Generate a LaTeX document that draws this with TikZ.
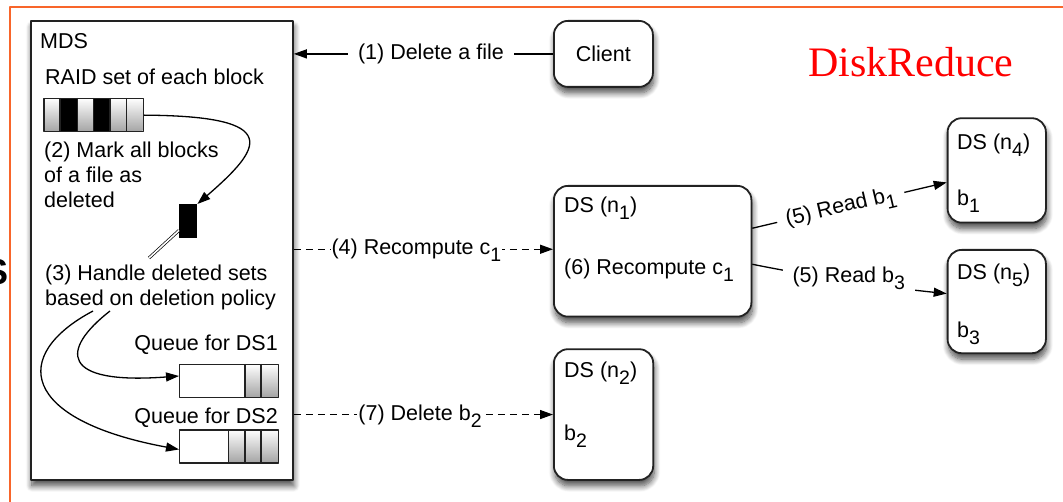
\documentclass[tikz,border=0pt]{standalone}
\usepackage{fontspec}
\setmainfont{Liberation Sans}
\newfontfamily\titleserif{Liberation Serif}
\usetikzlibrary{arrows.meta,shadows.blur,calc}

\definecolor{frameorange}{HTML}{F8652A}
\definecolor{boxline}{HTML}{222222}
% lowered index, kept out of the line height
\newcommand\dnsub[1]{\raisebox{-7pt}[0pt][0pt]{\fontsize{19.5}{19.5}\selectfont #1}}

\begin{document}
\begin{tikzpicture}[x=1pt,y=-1pt,
  font=\fontsize{21.5}{25}\selectfont,
  line join=round,
  frame/.style={draw=frameorange, line width=2pt},
  shadowed/.style={blur shadow={shadow xshift=1pt, shadow yshift=-6pt,
      shadow blur radius=6pt, shadow blur steps=10, shadow opacity=70}},
  panel/.style={draw=boxline, line width=1.8pt, fill=white, inner sep=0pt,
      anchor=north west, shadowed},
  rbox/.style={panel, rounded corners=14pt},
  txt/.style={anchor=base west, inner sep=0pt},
  txtr/.style={anchor=base east, inner sep=0pt},
  arr/.style={-{Triangle[length=13pt,width=9pt]}, line width=1.3pt},
  dsh/.style={dash pattern=on 7pt off 5pt},
  lbl/.style={fill=white, inner ysep=2pt},
  graycell/.style={top color=white, bottom color=black!35},
  thin box/.style={draw=boxline, line width=1.3pt, inner sep=0pt, anchor=north west},
]
\useasboundingbox (0,0) rectangle (1063,502);

% slide frame and the clipped heading letter at the left
\draw[frame] (9.5,502) -- (9.5,7.3) -- (1063,7.3);
\node[anchor=base east, inner sep=0pt, font=\bfseries\fontsize{36}{36}\selectfont] (cutS) at (8.5,285) {S};

% title
\node[txt, text=red, font=\titleserif\fontsize{42}{42}\selectfont] (title) at (808,76.7) {DiskReduce};

% metadata server
\node[panel, minimum width=262pt, minimum height=459pt] (mds) at (30,20) {};
\node[txt] (mdsname) at (40,49) {MDS};
\node[txt] (raidtxt) at (45,85) {RAID set of each block};

% RAID set strip: shaded and black cells
\foreach \xa/\xb in {43.3/60,77.3/93.3,110/126.7,126.7/142.7}
  \path[graycell] (\xa,98) rectangle (\xb,131);
\foreach \xa/\xb in {60/77.3,93.3/110}
  \fill[black] (\xa,98) rectangle (\xb,131);
\foreach \xb in {60,77.3,93.3,110,126.7}
  \draw[boxline, line width=1.3pt] (\xb,98) -- (\xb,131);
\node[thin box, minimum width=99.4pt, minimum height=33pt] (raid) at (43.3,98) {};

\node[txt] (mark1) at (44,158) {(2) Mark all blocks};
\node[txt] (mark2) at (44,183) {of a file as};
\node[txt] (mark3) at (44,208) {deleted};

% block marked as deleted
\node[fill=black, minimum width=18pt, minimum height=34pt, anchor=north west, inner sep=0pt] (blk) at (179,204) {};
\draw[arr] (raid.east) .. controls (285,116) and (262,148) .. (blk.north east);
\coordinate (dblend) at (149,258);
\draw[double, double distance=1.6pt, line width=0.7pt] ($(blk.south west)+(0,-8)$) -- (dblend);

\node[txt] (hand1) at (45,281) {(3) Handle deleted sets};
\node[txt] (hand2) at (45,306) {based on deletion policy};

% per-server queues
\node[txtr] (q1txt) at (278,351) {Queue for DS1};
\path[graycell] (245,364) rectangle (261,396.7);
\path[graycell] (261,364) rectangle (278,396.7);
\node[thin box, minimum width=99pt, minimum height=32.7pt] (q1) at (179,364) {};
\draw[boxline, line width=1.3pt] (245,364) -- (245,396.7) (261,364) -- (261,396.7);

\node[txtr] (q2txt) at (278,423.3) {Queue for DS2};
\path[graycell] (228.3,429.3) rectangle (245,462.3);
\path[graycell] (245,429.3) rectangle (261,462.3);
\path[graycell] (261,429.3) rectangle (278,462.3);
\node[thin box, minimum width=99pt, minimum height=33pt] (q2) at (179,429.3) {};
\draw[boxline, line width=1.3pt] (228.3,429.3) -- (228.3,462.3) (245,429.3) -- (245,462.3) (261,429.3) -- (261,462.3);

\coordinate (c1s) at (110,311);
\coordinate (c2s) at (93,311);
\draw[arr] (c1s) .. controls (60,350) and (60,385) .. ($(q1.west)+(0,-5)$);
\draw[arr] (c2s) .. controls (10,355) and (20,420) .. ($(q2.west)+(0,3)$);

% client and data servers
\node[rbox, minimum width=99pt, minimum height=66pt] (client) at (553,20) {Client};

\node[rbox, minimum width=197.5pt, minimum height=130.7pt] (n1) at (553,185) {};
\node[txt] (n1a) at (564,213) {DS (n\dnsub{1})};
\node[txt] (n1b) at (564,275) {(6) Recompute c\dnsub{1}};

\node[rbox, minimum width=99.3pt, minimum height=130.7pt] (n2) at (553,348.3) {};
\node[txt] (n2a) at (564,377.7) {DS (n\dnsub{2})};
\node[txt] (n2b) at (564,440) {b\dnsub{2}};

\node[rbox, minimum width=98.3pt, minimum height=104.4pt] (n4) at (946.7,117.3) {};
\node[txt] (n4a) at (957,150) {DS (n\dnsub{4})};
\node[txt] (n4b) at (957,205.5) {b\dnsub{1}};

\node[rbox, minimum width=98.3pt, minimum height=103.3pt] (n5) at (946.7,249) {};
\node[txt] (n5a) at (957,280) {DS (n\dnsub{5})};
\node[txt] (n5b) at (957,337.5) {b\dnsub{3}};

% message flow
\draw[arr] (client.west) -- node[lbl, pos=0.471, inner xsep=10pt] {(1) Delete a file} (mds.east |- client.west);
\draw[arr, dsh] ($(mds.east |- n1.west)+(0,-2)$) -- node[lbl, pos=0.473, inner xsep=1pt] {(4) Recompute c\dnsub{1}} ($(n1.west)+(0,-2)$);
\draw[arr, dsh] (mds.east |- n2.west) -- node[lbl, pos=0.487, inner xsep=1pt] {(7) Delete b\dnsub{2}} (n2.west);
\draw[arr] ($(n1.east)+(0,-23)$) -- node[lbl, sloped, pos=0.455, inner xsep=9pt, inner ysep=6pt] {(5) Read b\dnsub{1}} ($(n4.west)+(0,12)$);
\draw[arr] ($(n1.east)+(0,13)$) .. controls (810,276) and (887,287.6) .. node[lbl, pos=0.5, inner xsep=10pt, inner ysep=6pt, yshift=4pt] {(5) Read b\dnsub{3}} ($(n5.west)+(0,-8)$);
\end{tikzpicture}
\end{document}
